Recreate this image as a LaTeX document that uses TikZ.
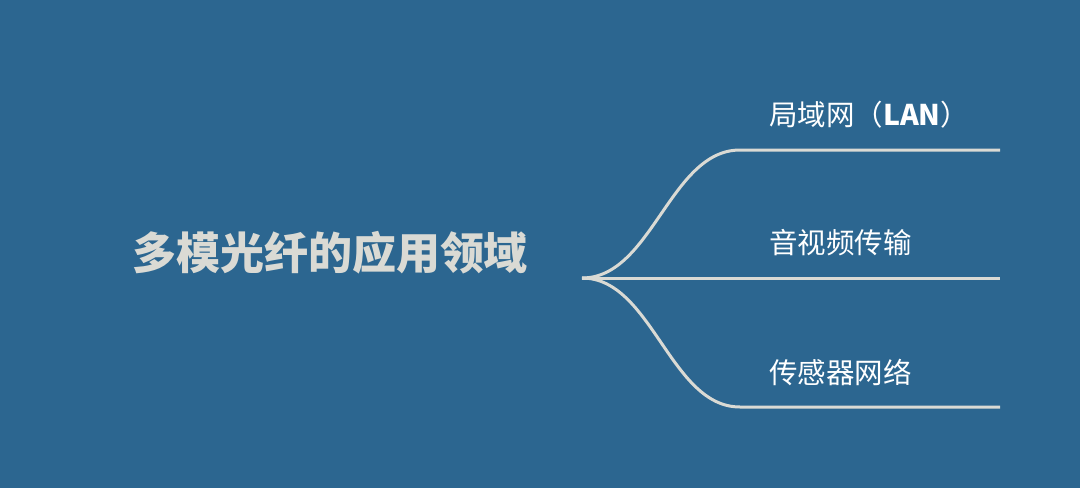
\documentclass[tikz,border=0pt]{standalone}
\usepackage{fontspec}
\newfontfamily\cjk{Noto Sans CJK SC}
\usetikzlibrary{positioning}
\definecolor{bgblue}{RGB}{44,102,144}
\definecolor{linegray}{RGB}{218,218,212}
\tikzset{
    titlenode/.style = {inner sep=0pt, align=center, text=linegray, font=\cjk\bfseries\fontsize{44}{48}\selectfont},
    leafnode/.style = {inner sep=0pt, anchor=west, text=white, font=\cjk\fontsize{28.5}{32}\selectfont},
    branch/.style = {-, line width=3pt, linegray}
}

\begin{document}
\begin{tikzpicture}[x=1pt, y=-1pt]
  \fill[bgblue] (0,0) rectangle (1080,488);
  \useasboundingbox (0,0) rectangle (1080,488);
  \node (title) at (330,253) [titlenode] {多模光纤的应用领域};
  \coordinate (root) at (582,278);
  \coordinate (lanend) at (1000,150);
  \coordinate (avend) at (1000,278);
  \coordinate (sensorend) at (1000,407);
  \node (lan) at (769,115) [leafnode] {局域网（\textbf{LAN}）};
  \node (av) at (769,243) [leafnode] {音视频传输};
  \node (sensor) at (769,372) [leafnode] {传感器网络};
  \draw[branch] (root) .. controls (652,278) and (670,150) .. (740,150) -- (lanend);
  \draw[branch] (root) -- (avend);
  \draw[branch] (root) .. controls (652,278) and (670,407) .. (740,407) -- (sensorend);
\end{tikzpicture}
\end{document}
